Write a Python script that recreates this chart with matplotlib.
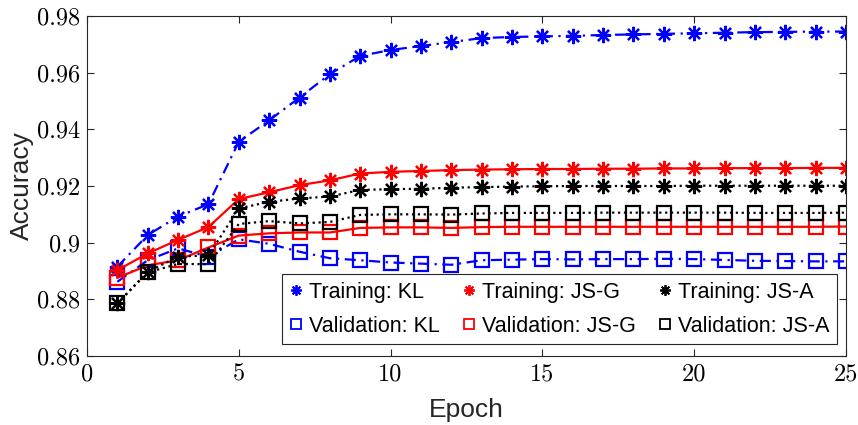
import matplotlib
matplotlib.use("Agg")
import matplotlib.pyplot as plt
from matplotlib.ticker import FixedLocator, FuncFormatter

epochs = list(range(1, 26))

train_kl = [0.8915, 0.9027, 0.9092, 0.9136, 0.9356, 0.9432, 0.9512, 0.9595, 0.9659, 0.9680,
            0.9694, 0.9708, 0.9722, 0.9726, 0.9728, 0.9730, 0.9733, 0.9735, 0.9737, 0.9739,
            0.9741, 0.9743, 0.9744, 0.9745, 0.9745]
train_jsg = [0.8903, 0.8962, 0.9010, 0.9055, 0.9154, 0.9178, 0.9203, 0.9220, 0.9244, 0.9250,
             0.9253, 0.9256, 0.9258, 0.9259, 0.9260, 0.9260, 0.9261, 0.9261, 0.9262, 0.9262,
             0.9263, 0.9263, 0.9263, 0.9264, 0.9264]
train_jsa = [0.8786, 0.8897, 0.8951, 0.8955, 0.9121, 0.9144, 0.9156, 0.9163, 0.9186, 0.9189,
             0.9190, 0.9194, 0.9196, 0.9198, 0.9199, 0.9200, 0.9200, 0.9200, 0.9200, 0.9201,
             0.9201, 0.9201, 0.9201, 0.9201, 0.9201]
val_kl = [0.8862, 0.8938, 0.8980, 0.8950, 0.9012, 0.8996, 0.8968, 0.8945, 0.8938, 0.8930,
          0.8926, 0.8922, 0.8938, 0.8940, 0.8942, 0.8941, 0.8942, 0.8942, 0.8943, 0.8942,
          0.8939, 0.8936, 0.8935, 0.8934, 0.8934]
val_jsg = [0.8876, 0.8920, 0.8938, 0.8983, 0.9025, 0.9033, 0.9036, 0.9036, 0.9052, 0.9054,
           0.9054, 0.9052, 0.9055, 0.9056, 0.9056, 0.9056, 0.9056, 0.9056, 0.9056, 0.9056,
           0.9056, 0.9056, 0.9056, 0.9056, 0.9057]
val_jsa = [0.8786, 0.8895, 0.8925, 0.8924, 0.9066, 0.9076, 0.9068, 0.9073, 0.9098, 0.9100,
           0.9100, 0.9099, 0.9103, 0.9105, 0.9105, 0.9105, 0.9106, 0.9106, 0.9106, 0.9106,
           0.9106, 0.9105, 0.9105, 0.9105, 0.9106]

x_ticks = [0, 5, 10, 15, 20, 25]
y_ticks = [0.86, 0.88, 0.90, 0.92, 0.94, 0.96, 0.98]

star = (8, 2, 0)
dashdot = (5, 2.5, 1, 2.5)

fig = plt.figure(figsize=(8.58, 4.25), dpi=100)
ax = fig.add_axes([87/858, 69/425, 759/858, 340/425])

lw = 1.6
ax.plot(epochs, train_kl, color="blue", dashes=dashdot, lw=lw, marker=star, ms=11, mew=1.6, label="Training: KL")
ax.plot(epochs, val_kl, color="blue", dashes=dashdot, lw=lw, marker="s", ms=9.5, mew=1.6, mfc="none", label="Validation: KL")
ax.plot(epochs, train_jsg, color="red", ls="-", lw=lw, marker=star, ms=11, mew=1.6, label="Training: JS-G")
ax.plot(epochs, val_jsg, color="red", ls="-", lw=lw, marker="s", ms=9.5, mew=1.6, mfc="none", label="Validation: JS-G")
ax.plot(epochs, train_jsa, color="black", ls=":", lw=lw, marker=star, ms=11, mew=1.6, label="Training: JS-A")
ax.plot(epochs, val_jsa, color="black", ls=":", lw=lw, marker="s", ms=9.5, mew=1.6, mfc="none", label="Validation: JS-A")

ax.set_xlim(0, 25)
ax.set_ylim(0.86, 0.98)
ax.xaxis.set_major_locator(FixedLocator(x_ticks))
ax.yaxis.set_major_locator(FixedLocator(y_ticks))
ax.yaxis.set_major_formatter(FuncFormatter(lambda v, p: "%g" % round(v, 2)))
ax.tick_params(direction="in", top=True, right=True, length=5, width=0.8,
               color="0.15", labelsize=17.5, pad=5)
for lab in ax.get_xticklabels() + ax.get_yticklabels():
    lab.set_fontfamily("cmr10")
for s in ax.spines.values():
    s.set_color("0.15")
    s.set_linewidth(0.8)

ax.set_xlabel("Epoch", fontsize=19, family="Liberation Sans", labelpad=9, color="0.15")
ax.set_ylabel("Accuracy", fontsize=19, family="Liberation Sans", labelpad=2, color="0.15")

leg = ax.legend(ncol=3, loc="lower right", bbox_to_anchor=(0.9878, 0.035), borderaxespad=0,
                prop={"family": "Liberation Sans", "size": 15.5},
                handlelength=0.6, handletextpad=0.3, columnspacing=1.05, markerscale=0.7,
                borderpad=0.35, labelspacing=0.6, fancybox=False, framealpha=1)
leg.get_frame().set_edgecolor("0.15")
leg.get_frame().set_linewidth(0.8)
for h in leg.legend_handles:
    h.set_linestyle("none")
    h.set_markeredgewidth(1.3)

fig.savefig("out.png", dpi=100)
